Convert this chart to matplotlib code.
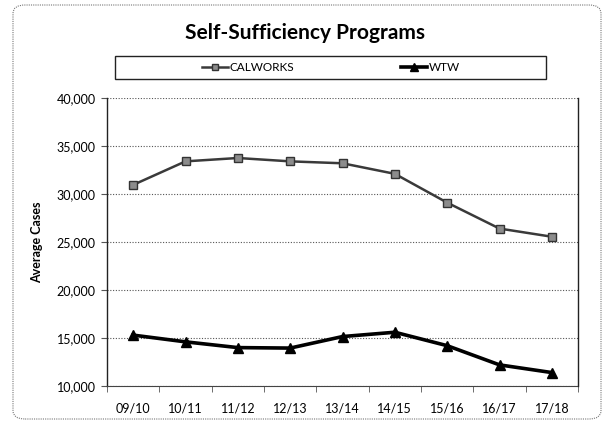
import matplotlib
matplotlib.use("Agg")
import matplotlib.pyplot as plt
from matplotlib.patches import FancyBboxPatch, Rectangle
from matplotlib.ticker import FuncFormatter, FixedLocator

years = ["09/10", "10/11", "11/12", "12/13", "13/14", "14/15", "15/16", "16/17", "17/18"]
calworks = [30950, 33400, 33750, 33400, 33200, 32100, 29100, 26400, 25550]
wtw = [15300, 14600, 14000, 13950, 15150, 15600, 14200, 12200, 11400]

plt.rcParams["font.family"] = ["Lato", "DejaVu Sans"]

fig = plt.figure(figsize=(6.05, 4.22), dpi=100)
ax = fig.add_axes([107 / 605, 1 - 386 / 422, 471 / 605, 288 / 422])

x = list(range(len(years)))
ax.plot(x, calworks, color="#3a3a3a", lw=1.8, marker="s", ms=6,
        mfc="#8c8c8c", mec="#333333", mew=1.0, label="CALWORKS")
ax.plot(x, wtw, color="black", lw=2.6, marker="^", ms=7,
        mfc="black", mec="black", label="WTW")

ax.set_xlim(-0.5, len(years) - 0.5)
ax.set_ylim(10000, 40000)
ax.set_yticks(range(10000, 40001, 5000))
ax.yaxis.set_major_formatter(FuncFormatter(lambda v, p: f"{int(v):,}"))
ax.set_xticks(x)
ax.set_xticklabels(years)
ax.xaxis.set_minor_locator(FixedLocator([i - 0.5 for i in range(len(years) + 1)]))
ax.tick_params(axis="x", which="major", length=0, pad=12, labelsize=9)
ax.tick_params(axis="x", which="minor", length=4, direction="out", color="#555555")
ax.tick_params(axis="y", length=4, direction="out", labelsize=9, pad=4, color="#555555")

ax.grid(axis="y", color="#555555", ls=(0, (1, 1.5)), lw=0.8)
ax.set_axisbelow(True)
for s in ["left", "right"]:
    ax.spines[s].set_color("#222222")
    ax.spines[s].set_linewidth(1.0)
ax.spines["top"].set_visible(False)
ax.spines["bottom"].set_color("#444444")
ax.spines["bottom"].set_linestyle((0, (1, 1)))

ax.set_ylabel("Average Cases", fontsize=9, fontweight="bold", labelpad=10)

fig.text(305 / 605, 1 - 33 / 422, "Self-Sufficiency Programs", ha="center",
         va="center", fontsize=15, fontweight="bold")

# legend box
fig.patches.append(Rectangle((115 / 605, 1 - 79 / 422), 431 / 605, 23 / 422,
                             transform=fig.transFigure, fill=False,
                             edgecolor="#222222", lw=1.0))
fig.legend(loc="center", bbox_to_anchor=(331 / 605, 1 - 67.5 / 422), ncol=2,
           frameon=False, fontsize=8.5, columnspacing=9, handlelength=2.2,
           handletextpad=0.2, markerscale=0.8)

# outer rounded border
fig.patches.append(FancyBboxPatch((13 / 605, 3 / 422), 588 / 605, 414 / 422,
                                  boxstyle="round,pad=0,rounding_size=0.02",
                                  transform=fig.transFigure, fill=False,
                                  edgecolor="#777777", lw=0.8, ls=(0, (1, 1))))

fig.savefig("out.png", dpi=100)
